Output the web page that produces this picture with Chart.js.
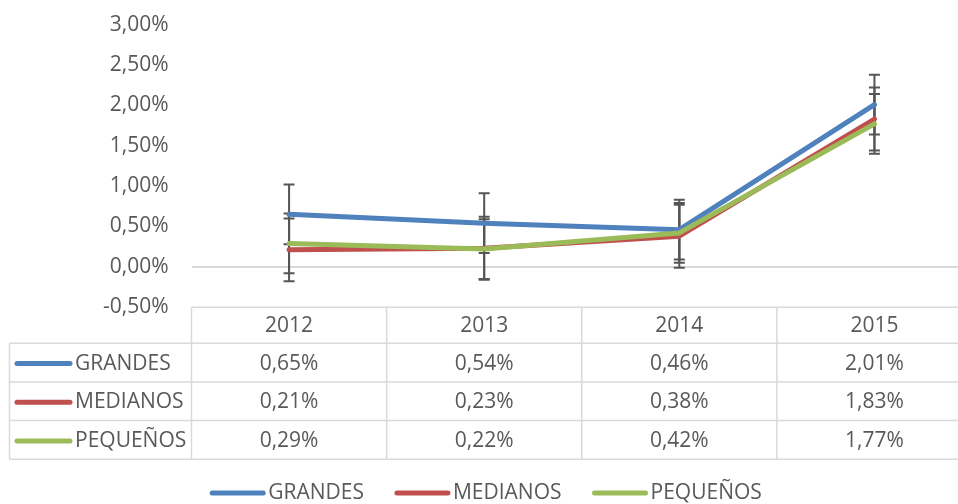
<!DOCTYPE html>
<html>
<head>
<meta charset="utf-8">
<script src="https://cdn.jsdelivr.net/npm/chart.js@4/dist/chart.umd.min.js"></script>
<style>
  html, body { margin: 0; padding: 0; background: #fff; overflow: hidden; width: 958px; height: 504px; }
  #wrap { position: absolute; left: 0; top: 0; width: 972px; height: 504px; }
</style>
</head>
<body>
<div id="wrap"><canvas id="c" width="972" height="504"></canvas></div>
<script>
// ---- data (percent values) ----
const categories = ['2012', '2013', '2014', '2015'];
const grandes  = [0.65, 0.54, 0.46, 2.01];
const medianos = [0.21, 0.23, 0.38, 1.83];
const pequenos = [0.29, 0.22, 0.42, 1.77];
const seriesNames = ['GRANDES', 'MEDIANOS', 'PEQUEÑOS'];
// standard error bar half-length per series (percent)
const errorBars = [0.37, 0.39, 0.37];
const yTicks = [-0.5, 0, 0.5, 1, 1.5, 2, 2.5, 3];

const colors = ['#4F81BD', '#C0504D', '#9BBB59'];
const textColor = '#595959';
const gridColor = '#D9D9D9';
const FONT = '"Open Sans", sans-serif';
const FS = 21;

function fmt(v) { return v.toFixed(2).replace('.', ',') + '%'; }

const seriesData = [grandes, medianos, pequenos];

const errorBarPlugin = {
  id: 'errorBars',
  beforeDatasetsDraw(chart) {
    const ctx = chart.ctx, x = chart.scales.x, y = chart.scales.y;
    ctx.save();
    ctx.strokeStyle = '#555555';
    ctx.lineWidth = 2;
    seriesData.forEach((arr, si) => {
      arr.forEach((v, i) => {
        const px = x.getPixelForValue(i);
        const top = y.getPixelForValue(v + errorBars[si]);
        const bot = y.getPixelForValue(v - errorBars[si]);
        ctx.beginPath();
        ctx.moveTo(px, top); ctx.lineTo(px, bot);
        ctx.moveTo(px - 5.5, top); ctx.lineTo(px + 5.5, top);
        ctx.moveTo(px - 5.5, bot); ctx.lineTo(px + 5.5, bot);
        ctx.stroke();
      });
    });
    ctx.restore();
  }
};

const tablePlugin = {
  id: 'dataTable',
  afterDraw(chart) {
    const ctx = chart.ctx, x = chart.scales.x, area = chart.chartArea;
    const colW = x.width / categories.length;
    const tableLeft = 9.5;
    const top = area.bottom;
    const headH = 36;
    const rowH = 38.7;
    const right = area.right;
    ctx.save();
    ctx.strokeStyle = gridColor;
    ctx.lineWidth = 1.5;
    ctx.beginPath();
    ctx.moveTo(area.left, top); ctx.lineTo(right, top);
    for (let r = 0; r <= seriesNames.length; r++) {
      const yy = top + headH + r * rowH;
      ctx.moveTo(tableLeft, yy); ctx.lineTo(right, yy);
    }
    const bottom = top + headH + seriesNames.length * rowH;
    ctx.moveTo(tableLeft, top + headH); ctx.lineTo(tableLeft, bottom);
    for (let i = 0; i <= categories.length; i++) {
      const xx = area.left + i * colW;
      ctx.moveTo(xx, top); ctx.lineTo(xx, bottom);
    }
    ctx.stroke();

    ctx.fillStyle = textColor;
    ctx.font = FS + 'px ' + FONT;
    ctx.textBaseline = 'middle';
    ctx.textAlign = 'center';
    categories.forEach((c, i) => {
      ctx.fillText(c, x.getPixelForValue(i), top + headH / 2 + 1);
    });
    seriesNames.forEach((name, si) => {
      const cy = top + headH + si * rowH + rowH / 2 + 1;
      ctx.strokeStyle = colors[si];
      ctx.lineWidth = 5;
      ctx.lineCap = 'round';
      ctx.beginPath();
      ctx.moveTo(17, cy); ctx.lineTo(70, cy);
      ctx.stroke();
      ctx.textAlign = 'left';
      ctx.fillText(name, 75, cy);
      ctx.textAlign = 'center';
      seriesData[si].forEach((v, i) => {
        ctx.fillText(fmt(v), x.getPixelForValue(i), cy);
      });
    });

    // bottom legend
    const ly = 493;
    const lineLen = 55, gapTxt = 3, gapItem = 31;
    const widths = seriesNames.map(n => lineLen + gapTxt + ctx.measureText(n).width);
    const total = widths.reduce((a, b) => a + b, 0) + gapItem * (seriesNames.length - 1);
    let lx = chart.width / 2 - total / 2;
    seriesNames.forEach((name, si) => {
      ctx.strokeStyle = colors[si];
      ctx.lineWidth = 5;
      ctx.lineCap = 'round';
      ctx.beginPath();
      ctx.moveTo(lx + 2, ly); ctx.lineTo(lx + lineLen - 2, ly);
      ctx.stroke();
      ctx.textAlign = 'left';
      ctx.fillText(name, lx + lineLen + gapTxt, ly);
      lx += widths[si] + gapItem;
    });
    ctx.restore();
  }
};

new Chart(document.getElementById('c'), {
  type: 'line',
  data: {
    labels: categories,
    datasets: seriesNames.map((n, si) => ({
      label: n,
      data: seriesData[si],
      borderColor: colors[si],
      backgroundColor: colors[si],
      borderWidth: 5,
      pointRadius: 0,
      tension: 0,
      borderCapStyle: 'round',
      borderJoinStyle: 'round',
      clip: false,
      order: seriesNames.length - si
    }))
  },
  options: {
    responsive: false,
    animation: false,
    devicePixelRatio: 1,
    layout: { padding: { top: 24.6, bottom: 196.8, left: 0, right: 0 } },
    plugins: { legend: { display: false }, tooltip: { enabled: false } },
    scales: {
      x: { type: 'category', offset: true, display: false },
      y: {
        min: -0.5, max: 3,
        afterBuildTicks(scale) { scale.ticks = yTicks.map(v => ({ value: v })); },
        afterFit(scale) { scale.width = 191.5; scale.paddingTop = 0; scale.paddingBottom = 0; },
        border: { display: false },
        grid: {
          drawTicks: false,
          lineWidth: 2,
          color: ctx => (ctx.tick && ctx.tick.value === 0) ? gridColor : 'rgba(0,0,0,0)'
        },
        ticks: {
          padding: 23,
          color: textColor,
          font: { family: FONT, size: FS },
          callback: v => fmt(v)
        }
      }
    }
  },
  plugins: [errorBarPlugin, tablePlugin]
});
</script>
</body>
</html>
